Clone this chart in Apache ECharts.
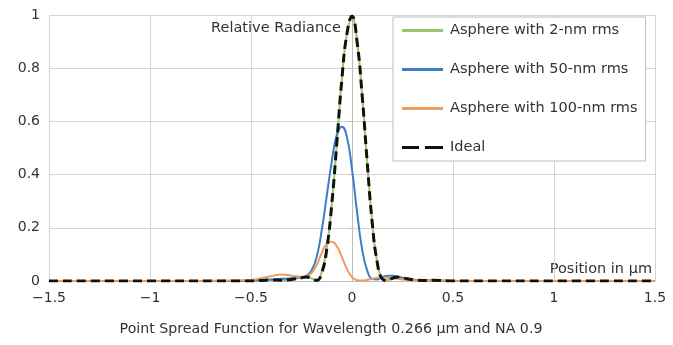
<!DOCTYPE html>
<html>
<head>
<meta charset="utf-8">
<script src="https://cdn.jsdelivr.net/npm/echarts@6/dist/echarts.min.js"></script>
<style>
  html, body { margin: 0; padding: 0; background: #fff; }
  #chart { width: 673px; height: 345px; }
</style>
</head>
<body>
<div id="chart"></div>
<script>
// positions in µm
const positions = [-1.5, -1, -0.6, -0.5, -0.45, -0.4, -0.35, -0.3, -0.25, -0.225,
  -0.2, -0.175, -0.15, -0.125, -0.1, -0.075, -0.05, -0.025, 0, 0.025,
  0.05, 0.075, 0.1, 0.125, 0.15, 0.175, 0.2, 0.225, 0.25, 0.3,
  0.35, 0.4, 0.5, 0.6, 1, 1.5];

const rms2nm = [0, 0, 0, 0, 0.002, 0.004, 0.003, 0.006, 0.012, 0.014,
  0.01, 0.001, 0.035, 0.125, 0.29, 0.52, 0.76, 0.93, 0.99, 0.9,
  0.7, 0.45, 0.22, 0.07, 0.01, 0.003, 0.01, 0.015, 0.012, 0.005,
  0.002, 0.003, 0, 0, 0, 0];

const rms50nm = [0, 0, 0, 0.002, 0.004, 0.006, 0.008, 0.01, 0.015, 0.02,
  0.04, 0.09, 0.19, 0.32, 0.45, 0.55, 0.58, 0.54, 0.42, 0.26,
  0.12, 0.04, 0.008, 0.006, 0.015, 0.02, 0.02, 0.016, 0.012, 0.006,
  0.003, 0.002, 0, 0, 0, 0];

const rms100nm = [0, 0, 0.002, 0.004, 0.01, 0.018, 0.024, 0.02, 0.016, 0.018,
  0.03, 0.06, 0.105, 0.14, 0.148, 0.13, 0.09, 0.045, 0.015, 0.003,
  0.002, 0.004, 0.008, 0.012, 0.013, 0.012, 0.01, 0.008, 0.006, 0.004,
  0.002, 0.002, 0.001, 0, 0, 0];

const ideal = [0, 0, 0, 0, 0.002, 0.004, 0.003, 0.006, 0.012, 0.015,
  0.01, 0.002, 0.03, 0.12, 0.29, 0.52, 0.76, 0.93, 0.995, 0.9,
  0.7, 0.45, 0.22, 0.07, 0.008, 0.002, 0.01, 0.015, 0.012, 0.005,
  0.002, 0.003, 0, 0, 0, 0];

const seriesNames = ['Asphere with 2-nm rms', 'Asphere with 50-nm rms', 'Asphere with 100-nm rms', 'Ideal'];
const seriesColors = ['#95c66c', '#3d7dc8', '#ef9b5e', '#111111'];

const FONT = '"DejaVu Sans", sans-serif';
const TXT = '#333';
const SOLID_ICON = 'path://M0,0h41v3h-41z';
const DASH_ICON = 'path://M0,0h17v3h-17z M23,0h18v3h-18z';

const pairs = (ys) => positions.map((x, i) => [x, ys[i]]);

function lineSeries(idx, ys, extra) {
  return Object.assign({
    name: seriesNames[idx],
    type: 'line',
    data: pairs(ys),
    smooth: 0.5,
    symbol: 'none',
    lineStyle: { color: seriesColors[idx], width: 2 },
    itemStyle: { color: seriesColors[idx] },
    z: 2 + idx,
  }, extra || {});
}

const chart = echarts.init(document.getElementById('chart'), null, { renderer: 'canvas' });

chart.setOption({
  backgroundColor: '#fff',
  animation: false,
  textStyle: { fontFamily: FONT },
  grid: { left: 49, right: 18, top: 15, bottom: 64, containLabel: false },
  title: [
    { text: 'Point Spread Function for Wavelength 0.266 µm and NA 0.9', left: 326, top: 317, textAlign: 'center',
      textStyle: { fontFamily: FONT, fontSize: 14.2, fontWeight: 'normal', color: TXT } },
  ],
  graphic: [
    { type: 'text', right: 673 - 341, top: 21,
      style: { text: 'Relative Radiance', font: '14.5px ' + FONT, fill: TXT } },
    { type: 'text', right: 673 - 652, top: 262,
      style: { text: 'Position in µm', font: '14.5px ' + FONT, fill: TXT } },
  ],
  legend: {
    orient: 'vertical',
    left: 393, top: 17,
    data: seriesNames.map((n, i) => ({ name: n, icon: i === 3 ? DASH_ICON : SOLID_ICON })),
    itemWidth: 41, itemHeight: 3, itemGap: 24,
    padding: [6, 8, 6, 9],
    backgroundColor: '#fff',
    borderColor: '#bdbdbd', borderWidth: 1,
    textStyle: { fontFamily: FONT, fontSize: 14.5, color: TXT, padding: [0, 0, 0, 2] },
  },
  xAxis: {
    type: 'value', min: -1.5, max: 1.5, interval: 0.5,
    axisLine: { onZero: false, lineStyle: { color: '#bdbdbd' } },
    axisTick: { show: false },
    axisLabel: { color: TXT, fontSize: 14, margin: 10, fontFamily: FONT,
      formatter: (v) => String(v).replace('-', '\u2212') },
    splitLine: { show: true, lineStyle: { color: '#d4d4d4', width: 1 } },
  },
  yAxis: {
    type: 'value', min: 0, max: 1, interval: 0.2,
    axisLine: { show: true, lineStyle: { color: '#bdbdbd' } },
    axisTick: { show: true, length: 4, lineStyle: { color: '#bdbdbd' } },
    axisLabel: { color: TXT, fontSize: 14, margin: 9, fontFamily: FONT },
    splitLine: { show: true, lineStyle: { color: '#d4d4d4', width: 1 } },
  },
  series: [
    lineSeries(0, rms2nm),
    lineSeries(1, rms50nm),
    lineSeries(2, rms100nm),
    lineSeries(3, ideal, { lineStyle: { color: seriesColors[3], width: 3, type: [9, 5] } }),
  ],
});
</script>
</body>
</html>
